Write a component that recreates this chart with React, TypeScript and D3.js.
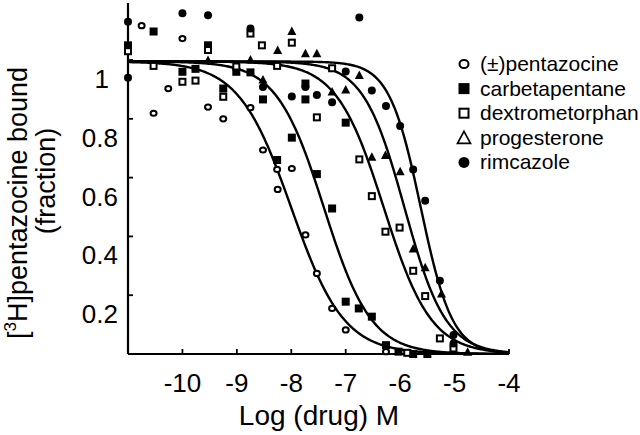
import React from "react";
import * as d3 from "d3";

// ---- data (log10 [drug] M, fraction bound) ----
const pentazocineX = [-10.75, -10.53, -10.26, -10.0, -9.53, -9.25, -8.75, -8.52, -8.26, -8.25, -7.99, -7.74, -7.53, -7.25, -7.0, -6.26];
const pentazocineY = [1.117, 0.819, 0.903, 1.073, 0.84, 0.8, 0.838, 0.694, 0.628, 0.56, 0.631, 0.405, 0.274, 0.155, 0.082, 0.008];

const carbetapentaneX = [-11.0, -10.53, -10.0, -9.76, -9.53, -9.25, -9.01, -8.75, -8.52, -8.26, -7.99, -7.74, -7.74, -7.53, -7.25, -7.0, -7.0, -6.76, -6.52, -6.26, -6.03, -5.76, -5.5];
const carbetapentaneY = [1.05, 1.097, 0.96, 0.97, 1.05, 0.903, 0.96, 0.958, 0.866, 0.66, 0.736, 0.92, 0.866, 0.612, 0.495, 0.787, 0.178, 0.155, 0.127, 0.03, 0.008, 0.0, 0.0];

const dextroX = [-11.0, -10.53, -10.0, -9.76, -9.53, -9.25, -9.01, -8.75, -8.54, -8.26, -7.99, -7.53, -7.25, -6.75, -6.52, -6.27, -6.01, -5.87, -5.76, -5.54, -5.27, -5.02];
const dextroY = [1.03, 0.98, 0.926, 0.93, 1.034, 0.875, 0.978, 1.09, 1.05, 0.98, 1.059, 0.805, 0.972, 0.662, 0.537, 0.416, 0.43, 0.004, 0.283, 0.197, 0.053, 0.019];

const progesteroneX = [-9.53, -8.75, -8.52, -8.25, -7.99, -7.74, -7.53, -7.25, -7.0, -6.75, -6.52, -6.27, -6.0, -5.76, -5.54, -5.24, -4.76];
const progesteroneY = [1.0, 1.002, 0.934, 1.034, 1.099, 1.023, 1.023, 0.893, 0.9, 0.949, 0.671, 0.677, 0.622, 0.359, 0.295, 0.206, 0.008];

const rimcazoleX = [-11.0, -11.0, -10.0, -9.53, -8.75, -8.52, -7.99, -7.74, -7.53, -7.25, -7.0, -6.75, -6.52, -6.26, -6.0, -5.76, -5.54, -5.27, -5.02, -5.02];
const rimcazoleY = [1.13, 0.94, 1.159, 1.152, 1.107, 0.908, 0.876, 0.908, 0.881, 0.856, 0.961, 1.145, 0.896, 0.844, 0.776, 0.628, 0.521, 0.249, 0.065, 0.036];

// fitted curves: logIC50 and Hill slope
const curveNames = ["pentazocine", "carbetapentane", "dextromethorphan", "progesterone", "rimcazole"];
const curveIC50 = [-8.0, -7.4, -6.3, -5.92, -5.62];
const curveHill = [0.9, 1.0, 1.0, 1.15, 1.5];
const curveTop = 0.995;

const legendLabels = ["(±)pentazocine", "carbetapentane", "dextrometorphan", "progesterone", "rimcazole"];
const xTicks = [-10, -9, -8, -7, -6, -5, -4];
const yTicks = [0.2, 0.4, 0.6, 0.8, 1];

const FONT = "'Liberation Sans', Arial, Helvetica, sans-serif";

type Kind = "openCircle" | "filledSquare" | "openSquare" | "filledTriangle" | "openTriangle" | "filledCircle";

function Marker({ kind, x, y, s }: { kind: Kind; x: number; y: number; s: number }) {
  const h = s / 2;
  switch (kind) {
    case "openCircle":
      return <ellipse cx={x} cy={y} rx={h - 1} ry={h - 1.4} fill="white" stroke="black" strokeWidth={2} />;
    case "filledCircle":
      return <circle cx={x} cy={y} r={h} fill="black" />;
    case "filledSquare":
      return <rect x={x - h} y={y - h} width={s} height={s} fill="black" />;
    case "openSquare":
      return <rect x={x - h + 1} y={y - h + 1} width={s - 2} height={s - 2} fill="white" stroke="black" strokeWidth={2} />;
    case "filledTriangle": {
      const p = `${x},${y - h - 0.5} ${x + h + 0.5},${y + h} ${x - h - 0.5},${y + h}`;
      return <polygon points={p} fill="black" />;
    }
    case "openTriangle": {
      const p = `${x},${y - h} ${x + h},${y + h - 1} ${x - h},${y + h - 1}`;
      return <polygon points={p} fill="white" stroke="black" strokeWidth={1.7} />;
    }
  }
}

export default function App() {
  const x = d3.scaleLinear().domain([-11, -4]).range([128, 509]);
  const y = d3.scaleLinear().domain([0, 1.194]).range([354, 3]);

  const series: { xs: number[]; ys: number[]; kind: Kind }[] = [
    { xs: pentazocineX, ys: pentazocineY, kind: "openCircle" },
    { xs: carbetapentaneX, ys: carbetapentaneY, kind: "filledSquare" },
    { xs: dextroX, ys: dextroY, kind: "openSquare" },
    { xs: progesteroneX, ys: progesteroneY, kind: "filledTriangle" },
    { xs: rimcazoleX, ys: rimcazoleY, kind: "filledCircle" },
  ];
  const legendKinds: Kind[] = ["openCircle", "filledSquare", "openSquare", "openTriangle", "filledCircle"];

  const samples = d3.range(-11, -3.999, 0.02);
  const line = d3
    .line<number[]>()
    .x((d) => x(d[0]))
    .y((d) => y(d[1]))
    .curve(d3.curveLinear);

  const curves = curveNames.map((_, i) =>
    line(samples.map((lx) => [lx, curveTop / (1 + Math.pow(10, curveHill[i] * (lx - curveIC50[i])))]))
  );

  return (
    <svg width={640} height={435} style={{ position: "absolute", left: 0, top: 0, background: "white" }} fontFamily={FONT}>
      <rect width={640} height={435} fill="white" />
      {/* axes */}
      <line x1={x(-11)} x2={x(-11)} y1={y(0)} y2={y(1.194)} stroke="black" strokeWidth={2.2} />
      <line x1={x(-11)} x2={x(-4)} y1={y(0)} y2={y(0)} stroke="black" strokeWidth={2.2} />
      {xTicks.map((t) => (
        <g key={t}>
          <line x1={x(t)} x2={x(t)} y1={y(0)} y2={y(0) - 5} stroke="black" strokeWidth={1.8} />
          <text x={x(t)} y={392} fontSize={26} textAnchor="middle">
            {"-" + Math.abs(t)}
          </text>
        </g>
      ))}
      {yTicks.map((t) => (
        <g key={t}>
          <line x1={x(-11)} x2={x(-11) + 5} y1={y(t)} y2={y(t)} stroke="black" strokeWidth={1.8} />
          <text x={t === 1 ? 109 : 118} y={y(t) + 28} fontSize={26} textAnchor="end">
            {t === 1 ? "1" : String(t)}
          </text>
        </g>
      ))}
      <text x={319} y={425} fontSize={28} textAnchor="middle">
        Log (drug) M
      </text>
      <text transform="translate(27,203) rotate(-90)" fontSize={27} textAnchor="middle">
        [<tspan fontSize={17} dy={-11}>3</tspan>
        <tspan dy={11}>H]pentazocine bound</tspan>
      </text>
      <text transform="translate(55,181) rotate(-90)" fontSize={27} textAnchor="middle">
        (fraction)
      </text>

      {/* curves */}
      {curves.map((d, i) => (
        <path key={i} d={d || ""} fill="none" stroke="black" strokeWidth={2.4} />
      ))}

      {/* points */}
      {series.map((s, si) =>
        s.xs.map((v, i) => <Marker key={si + "-" + i} kind={s.kind} x={x(v)} y={y(s.ys[i])} s={8} />)
      )}

      {/* legend */}
      {legendLabels.map((lab, i) => {
        const by = 71 + i * 24.6;
        return (
          <g key={lab}>
            <Marker kind={legendKinds[i]} x={464} y={by - 7} s={legendKinds[i] === "openTriangle" ? 13 : 11} />
            <text x={480} y={by} fontSize={21}>
              {lab}
            </text>
          </g>
        );
      })}
    </svg>
  );
}
